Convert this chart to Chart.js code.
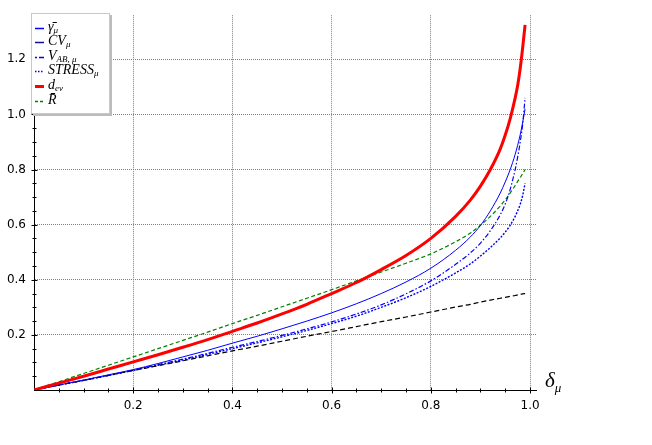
<!DOCTYPE html>
<html lang="en">
<head>
    <meta charset="UTF-8">
    <title>delta_mu curves</title>
    <script src="https://cdn.jsdelivr.net/npm/chart.js"></script>
    <style>
        body {
            margin: 0;
            background: white;
        }
        .wrap {
            position: relative;
            width: 652px;
            height: 445px;
        }
        .legend {
            position: absolute;
            left: 31px;
            top: 13px;
            width: 77px;
            height: 99px;
            background: white;
            border: 1px solid #c8c8c8;
            box-shadow: 2px 2px 0 #bcbcbc;
            font-family: 'Liberation Serif', serif;
            font-style: italic;
            font-size: 14px;
            color: black;
        }
        .row {
            position: absolute;
            left: 3px;
            height: 14px;
            line-height: 14px;
            white-space: nowrap;
        }
        .row svg {
            position: absolute;
            left: 0;
            top: 6px;
        }
        .row span.lbl {
            position: absolute;
            left: 13px;
            top: -1px;
        }
        sub {
            font-size: 9px;
            vertical-align: -2px;
            line-height: 0;
        }
        .xlabel {
            position: absolute;
            left: 545px;
            top: 368px;
            font-family: 'Liberation Serif', serif;
            font-style: italic;
            font-size: 21px;
        }
        .xlabel sub {
            font-size: 13px;
            vertical-align: -5px;
        }
    </style>
</head>
<body>
    <div class="wrap">
        <canvas id="curves" width="652" height="445"></canvas>
        <div class="legend">
            <div class="row" style="top:7px"><svg width="9" height="3"><line x1="0" y1="1.5" x2="9" y2="1.5" stroke="#0000ff" stroke-width="1.5"/></svg><span class="lbl">γ̄<sub>μ</sub></span></div>
            <div class="row" style="top:21px"><svg width="9" height="3"><line x1="0" y1="1.5" x2="9" y2="1.5" stroke="#1010a0" stroke-width="1.5"/></svg><span class="lbl">CV<sub>μ</sub></span></div>
            <div class="row" style="top:36px"><svg width="9" height="3"><line x1="0" y1="1.5" x2="9" y2="1.5" stroke="#0000ff" stroke-width="1.5" stroke-dasharray="2,2,5,0"/></svg><span class="lbl">V<sub>AB, μ</sub></span></div>
            <div class="row" style="top:50px"><svg width="9" height="3"><line x1="0" y1="1.5" x2="9" y2="1.5" stroke="#0000ff" stroke-width="1.5" stroke-dasharray="1.5,1.5"/></svg><span class="lbl">STRESS<sub>μ</sub></span></div>
            <div class="row" style="top:65px"><svg width="9" height="3"><line x1="0" y1="1.5" x2="9" y2="1.5" stroke="#ff0000" stroke-width="3"/></svg><span class="lbl">d<sub>ev</sub></span></div>
            <div class="row" style="top:80px"><svg width="9" height="3"><line x1="0" y1="1.5" x2="9" y2="1.5" stroke="#008000" stroke-width="1.5" stroke-dasharray="3,2"/></svg><span class="lbl">R̄</span></div>
        </div>
        <div class="xlabel">δ<sub>μ</sub></div>
    </div>

    <script>
        // values
        const deltaMu = [0, 0.05, 0.1, 0.15, 0.2, 0.25, 0.3, 0.35, 0.4, 0.45, 0.5, 0.55, 0.6, 0.65, 0.7, 0.75, 0.8,
            0.85, 0.88, 0.9, 0.92, 0.94, 0.95, 0.96, 0.97, 0.975, 0.98, 0.985, 0.99];
        const gammaBar = [0, 0.018, 0.036, 0.055, 0.074, 0.096, 0.120, 0.144, 0.170, 0.195, 0.222, 0.250, 0.280, 0.313, 0.350, 0.392, 0.442,
            0.507, 0.556, 0.597, 0.650, 0.715, 0.755, 0.800, 0.855, 0.888, 0.925, 0.970, 1.020];
        const cvMu = [0, 0.018, 0.035, 0.053, 0.071, 0.088, 0.106, 0.124, 0.142, 0.159, 0.177, 0.195, 0.212, 0.230, 0.248, 0.265, 0.283,
            0.301, 0.311, 0.319, 0.326, 0.333, 0.336, 0.340, 0.343, 0.345, 0.347, 0.349, 0.350];
        const vAB = [0, 0.018, 0.035, 0.053, 0.072, 0.092, 0.112, 0.133, 0.155, 0.176, 0.198, 0.222, 0.247, 0.276, 0.309, 0.349, 0.396,
            0.456, 0.498, 0.533, 0.578, 0.636, 0.675, 0.728, 0.800, 0.845, 0.898, 0.962, 1.060];
        const stressMu = [0, 0.018, 0.035, 0.053, 0.071, 0.090, 0.109, 0.129, 0.150, 0.171, 0.193, 0.216, 0.241, 0.268, 0.300, 0.335, 0.376,
            0.425, 0.458, 0.486, 0.517, 0.552, 0.573, 0.598, 0.630, 0.650, 0.673, 0.705, 0.750];
        const dEv = [0, 0.025, 0.050, 0.076, 0.102, 0.128, 0.155, 0.183, 0.213, 0.243, 0.276, 0.311, 0.350, 0.390, 0.437, 0.488, 0.550,
            0.630, 0.690, 0.740, 0.800, 0.875, 0.925, 0.985, 1.060, 1.105, 1.165, 1.240, 1.325];
        const rBar = [0, 0.030, 0.060, 0.090, 0.120, 0.150, 0.180, 0.210, 0.241, 0.271, 0.302, 0.333, 0.364, 0.396, 0.428, 0.460, 0.494,
            0.538, 0.570, 0.598, 0.630, 0.668, 0.690, 0.715, 0.742, 0.757, 0.770, 0.785, 0.800];

        const xTicks = [0.2, 0.4, 0.6, 0.8, 1.0];
        const yTicks = [0.2, 0.4, 0.6, 0.8, 1.0, 1.2];
        const minorStep = 0.05;

        const pts = ys => deltaMu.map((x, i) => ({x: x, y: ys[i]}));

        function line(label, ys, color, width, dash) {
            return {
                label: label,
                data: pts(ys),
                borderColor: color,
                borderWidth: width,
                borderDash: dash,
                pointRadius: 0,
                fill: false,
                cubicInterpolationMode: 'monotone'
            };
        }

        // small ticks crossing the axes at the origin
        const axisTicks = {
            id: 'axisTicks',
            afterDraw(chart) {
                const {ctx, scales: {x, y}} = chart;
                const x0 = Math.round(x.getPixelForValue(0)) + 0.5;
                const y0 = Math.round(y.getPixelForValue(0)) + 0.5;
                ctx.save();
                ctx.strokeStyle = '#000';
                ctx.lineWidth = 1;
                ctx.beginPath();
                for (let i = 1; i * minorStep <= x.max + 1e-9; i++) {
                    const px = Math.round(x.getPixelForValue(i * minorStep)) + 0.5;
                    const len = i % 4 === 0 ? 3 : 2;
                    ctx.moveTo(px, y0 - len);
                    ctx.lineTo(px, y0 + len);
                }
                for (let i = 1; i * minorStep <= y.max + 1e-9; i++) {
                    const py = Math.round(y.getPixelForValue(i * minorStep)) + 0.5;
                    const len = i % 4 === 0 ? 3 : 2;
                    ctx.moveTo(x0 - len, py);
                    ctx.lineTo(x0 + len, py);
                }
                ctx.stroke();
                ctx.restore();
            }
        };

        const tickFont = {family: "'DejaVu Sans', sans-serif", size: 12};

        new Chart(document.getElementById('curves'), {
            type: 'line',
            data: {
                datasets: [
                    line('dev', dEv, '#ff0000', 3, []),
                    line('gamma', gammaBar, '#0000ff', 1, []),
                    line('CV', cvMu, '#000000', 1.2, [5, 3]),
                    line('VAB', vAB, '#0000ff', 1.2, [5, 2, 1.5, 2]),
                    line('STRESS', stressMu, '#0000ff', 1.4, [2, 1.5]),
                    line('R', rBar, '#008000', 1.2, [4, 2.5])
                ]
            },
            options: {
                responsive: false,
                animation: false,
                layout: {padding: {top: 5, right: 116, left: 0, bottom: 0}},
                plugins: {
                    legend: {display: false},
                    tooltip: {enabled: false}
                },
                scales: {
                    x: {
                        type: 'linear',
                        min: 0,
                        max: 1.012,
                        afterBuildTicks: s => { s.ticks = xTicks.map(v => ({value: v})); },
                        afterFit: s => { s.height = 55; },
                        grid: {color: '#808080', lineWidth: 1, drawTicks: false},
                        border: {display: true, color: '#000', width: 1, dash: [1, 1]},
                        ticks: {
                            font: tickFont,
                            color: '#000',
                            padding: 9,
                            maxRotation: 0,
                            callback: v => v.toFixed(1)
                        }
                    },
                    y: {
                        type: 'linear',
                        min: 0,
                        max: 1.36,
                        afterBuildTicks: s => { s.ticks = yTicks.map(v => ({value: v})); },
                        afterFit: s => { s.width = 34; },
                        grid: {color: '#808080', lineWidth: 1, drawTicks: false},
                        border: {display: true, color: '#000', width: 1, dash: [1, 1]},
                        ticks: {
                            font: tickFont,
                            color: '#000',
                            padding: 8,
                            callback: v => v.toFixed(1)
                        }
                    }
                }
            },
            plugins: [axisTicks]
        });
    </script>
</body>
</html>
